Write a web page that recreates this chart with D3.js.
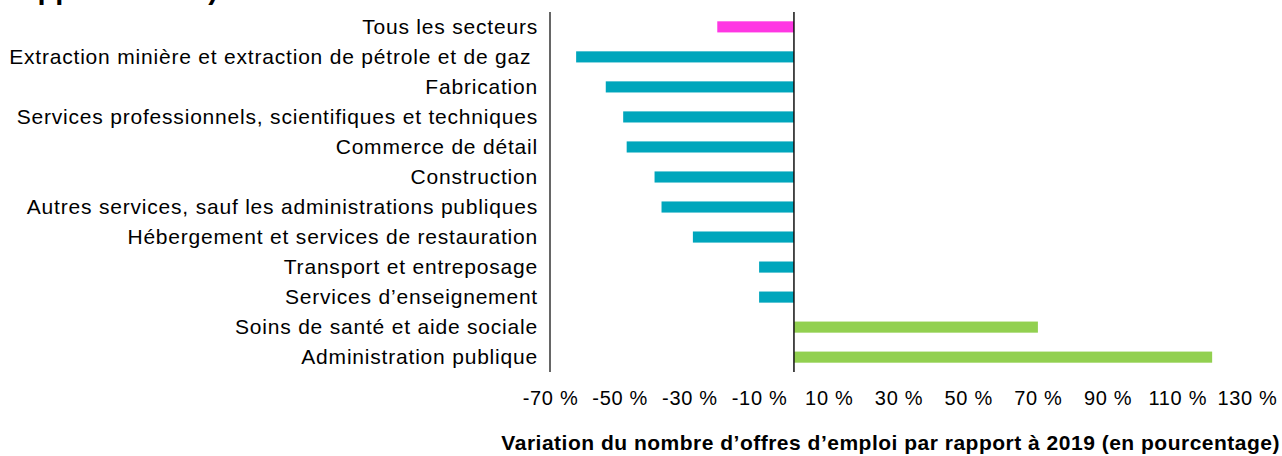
<!DOCTYPE html>
<html>
<head>
<meta charset="utf-8">
<script src="https://cdn.jsdelivr.net/npm/d3@7"></script>
<style>
  body { margin: 0; background: #fff; }
  text { font-family: 'Liberation Sans', Arial, Helvetica, sans-serif; fill: #000; }
</style>
</head>
<body>
<div id="container"></div>
<script>
// secteurs, du haut vers le bas
const sectors = [
  'Tous les secteurs',
  'Extraction minière et extraction de pétrole et de gaz ',
  'Fabrication',
  'Services professionnels, scientifiques et techniques',
  'Commerce de détail',
  'Construction',
  'Autres services, sauf les administrations publiques',
  'Hébergement et services de restauration',
  'Transport et entreposage',
  'Services d’enseignement',
  'Soins de santé et aide sociale',
  'Administration publique'
];
const changes = [-22, -62.5, -54, -49, -48, -40, -38, -29, -10, -10, 70, 120];
const tickValues = [-70, -50, -30, -10, 10, 30, 50, 70, 90, 110, 130];
const xTitle = 'Variation du nombre d’offres d’emploi par rapport à 2019 (en pourcentage)';
const titleTail = 'rapport à 2019)';

document.addEventListener('DOMContentLoaded', () => {
  const w = 1282;
  const h = 456;

  const svg = d3.select('#container')
    .append('svg')
    .attr('width', w)
    .attr('height', h);

  // fin du titre, coupée par le haut de l'image
  svg.append('text')
    .attr('x', 10)
    .attr('y', -1)
    .style('font-size', '29px')
    .style('font-weight', 'bold')
    .text(titleTail);

  const x = d3.scaleLinear()
    .domain([-70, 130])
    .range([550, 1247]);

  const y = d3.scaleBand()
    .domain(sectors)
    .range([12, 372])
    .paddingInner(0.63)
    .paddingOuter(0.31);

  const color = (d, i) => i === 0 ? '#ff37e3' : (d < 0 ? '#00a6bc' : '#92d050');

  svg.append('g')
    .selectAll('rect')
    .data(changes)
    .enter()
    .append('rect')
    .attr('x', d => x(Math.min(0, d)))
    .attr('y', (d, i) => y(sectors[i]))
    .attr('width', d => Math.abs(x(d) - x(0)))
    .attr('height', y.bandwidth())
    .attr('fill', color);

  // libellés des secteurs
  svg.append('g')
    .selectAll('text')
    .data(sectors)
    .enter()
    .append('text')
    .attr('x', 538)
    .attr('y', d => y(d) + y.bandwidth() / 2 + 7)
    .attr('text-anchor', 'end')
    .style('font-size', '21px')
    .style('letter-spacing', '0.8px')
    .style('white-space', 'pre')
    .text(d => d);

  // axe vertical de gauche et ligne du zéro
  svg.append('line')
    .attr('x1', x(-70)).attr('x2', x(-70))
    .attr('y1', 12).attr('y2', 372)
    .attr('stroke', '#333')
    .attr('stroke-width', 1.5);

  svg.append('line')
    .attr('x1', x(0)).attr('x2', x(0))
    .attr('y1', 12).attr('y2', 372)
    .attr('stroke', '#111')
    .attr('stroke-width', 1.5);

  const axis = svg.append('g')
    .attr('transform', 'translate(0,387)')
    .call(d3.axisBottom(x)
      .tickValues(tickValues)
      .tickSize(0)
      .tickPadding(0)
      .tickFormat(d => `${d} %`));
  axis.select('.domain').remove();
  axis.selectAll('text')
    .attr('dy', '0.9em')
    .style('font-size', '20px')
    .style('letter-spacing', '0.7px')
    .style('font-family', "'Liberation Sans', Arial, sans-serif")
    .attr('fill', '#000');

  svg.append('text')
    .attr('x', 1280)
    .attr('y', 450)
    .attr('text-anchor', 'end')
    .style('font-size', '21px')
    .style('font-weight', 'bold')
    .style('letter-spacing', '0.5px')
    .text(xTitle);
});
</script>
</body>
</html>
